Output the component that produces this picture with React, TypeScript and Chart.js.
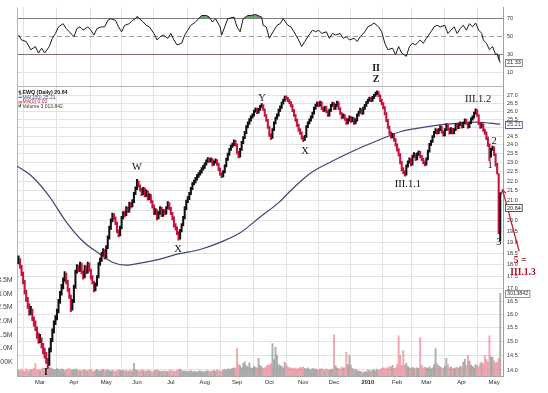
import React, { useEffect, useRef } from "react";
import { Chart, registerables } from "chart.js";

Chart.register(...registerables);

// ---------------- data ----------------
// trading-day index 0 = 9 Feb 2009 ... 313 = 7 May 2010
const closes = [
  18.21, 17.91, 17.62, 17.29, 16.89, 16.58, 16.31, 16.04, 16.16, 15.82,
  15.68, 15.46, 15.20, 15.02, 15.09, 14.85, 14.68, 14.51, 14.34, 14.17,
  14.68, 15.02, 15.38, 15.68, 15.82, 16.12, 16.50, 16.81, 17.09, 17.37,
  17.62, 17.29, 16.97, 16.70, 16.20, 16.50, 17.09, 17.70, 17.91, 17.79,
  18.04, 17.70, 17.49, 17.91, 17.70, 18.04, 17.79, 17.49, 17.29, 16.97,
  17.17, 17.49, 18.04, 18.21, 18.47, 18.64, 18.34, 18.78, 19.21, 19.67,
  20.00, 20.29, 20.15, 19.91, 19.53, 19.35, 19.67, 20.15, 20.38, 20.29,
  20.62, 20.48, 20.86, 20.72, 20.96, 21.36, 21.61, 21.97, 21.76, 21.56,
  21.36, 21.61, 21.26, 21.46, 21.11, 21.26, 20.96, 20.72, 20.38, 20.52,
  20.15, 20.38, 20.62, 20.29, 20.48, 20.38, 20.62, 20.86, 20.62, 20.38,
  20.15, 19.81, 19.67, 19.44, 19.21, 19.53, 19.81, 20.15, 20.62, 20.96,
  21.11, 21.36, 21.61, 21.86, 21.97, 22.12, 22.28, 22.38, 22.49, 22.65,
  22.75, 22.91, 23.08, 23.19, 23.08, 23.19, 22.91, 23.02, 23.13, 22.91,
  22.65, 22.38, 22.28, 22.49, 22.81, 23.19, 23.46, 23.74, 23.90, 24.01,
  24.19, 24.01, 23.57, 23.35, 23.74, 24.13, 24.41, 24.70, 25.05, 25.28,
  25.46, 25.64, 25.76, 26.00, 26.13, 25.94, 26.13, 26.31, 26.37, 26.13,
  25.76, 25.46, 25.05, 24.58, 24.41, 24.87, 25.28, 25.58, 25.76, 26.06,
  26.25, 26.50, 26.69, 26.87, 26.81, 26.69, 26.56, 26.37, 26.06, 25.76,
  25.46, 25.17, 24.87, 24.70, 24.41, 24.30, 24.47, 25.05, 25.28, 25.46,
  25.64, 25.88, 26.19, 26.37, 26.50, 26.37, 26.56, 26.19, 26.06, 26.25,
  26.00, 25.76, 26.06, 26.37, 26.50, 26.19, 26.37, 26.56, 26.19, 25.88,
  25.64, 25.76, 25.52, 25.28, 25.46, 25.64, 25.40, 25.58, 25.28, 25.46,
  25.76, 25.94, 26.13, 25.88, 26.19, 26.37, 26.56, 26.69, 26.81, 26.69,
  26.87, 27.00, 27.13, 27.19, 27.00, 26.69, 26.50, 26.25, 25.88, 25.46,
  25.05, 24.70, 24.47, 24.58, 24.30, 24.01, 23.74, 23.46, 23.02, 22.65,
  22.49, 22.38, 22.81, 23.02, 23.19, 22.91, 23.35, 23.46, 23.19, 23.46,
  23.57, 23.35, 23.19, 23.02, 22.91, 23.19, 23.63, 24.01, 24.19, 24.47,
  24.70, 24.87, 24.70, 24.87, 25.05, 24.76, 24.58, 24.87, 25.17, 24.93,
  24.70, 24.93, 24.70, 24.87, 25.17, 24.99, 25.17, 25.28, 25.05, 25.28,
  25.46, 25.28, 25.05, 25.28, 25.52, 25.64, 25.88, 26.06, 25.76, 25.28,
  25.05, 25.17, 24.87, 24.70, 24.41, 24.01, 23.35, 23.74, 23.85, 23.46,
  22.91, 22.49, 20.50, 20.64,
];

const highs = [
  18.40, 18.28, 17.98, 17.70, 17.35, 16.95, 16.66, 16.40, 16.30, 16.20,
  15.90, 15.75, 15.52, 15.30, 15.25, 15.12, 14.92, 14.75, 14.60, 14.40,
  14.75, 15.10, 15.45, 15.75, 15.95, 16.20, 16.58, 16.90, 17.18, 17.45,
  17.72, 17.65, 17.35, 17.02, 16.75, 16.58, 17.15, 17.78, 18.02, 17.98,
  18.12, 18.08, 17.75, 17.98, 17.95, 18.12, 18.08, 17.82, 17.55, 17.32,
  17.25, 17.55, 18.10, 18.30, 18.55, 18.72, 18.68, 18.85, 19.30, 19.75,
  20.10, 20.38, 20.35, 20.20, 19.95, 19.58, 19.75, 20.22, 20.45, 20.48,
  20.70, 20.68, 20.92, 20.90, 21.05, 21.42, 21.70, 22.10, 22.02, 21.80,
  21.62, 21.68, 21.65, 21.55, 21.50, 21.35, 21.30, 21.00, 20.78, 20.60,
  20.55, 20.45, 20.70, 20.66, 20.55, 20.55, 20.70, 20.95, 20.90, 20.66,
  20.42, 20.20, 19.88, 19.72, 19.50, 19.60, 19.88, 20.22, 20.70, 21.02,
  21.20, 21.42, 21.68, 21.92, 22.05, 22.20, 22.35, 22.45, 22.58, 22.72,
  22.85, 22.98, 23.15, 23.28, 23.25, 23.26, 23.22, 23.10, 23.20, 23.16,
  22.95, 22.70, 22.45, 22.56, 22.88, 23.25, 23.52, 23.80, 23.98, 24.10,
  24.28, 24.25, 24.05, 23.62, 23.80, 24.20, 24.48, 24.78, 25.12, 25.36,
  25.55, 25.72, 25.85, 26.08, 26.22, 26.18, 26.20, 26.38, 26.48, 26.42,
  26.16, 25.80, 25.50, 25.10, 24.65, 24.95, 25.35, 25.65, 25.85, 26.14,
  26.34, 26.58, 26.78, 26.96, 26.98, 26.88, 26.75, 26.62, 26.42, 26.10,
  25.82, 25.52, 25.22, 24.95, 24.75, 24.48, 24.55, 25.12, 25.35, 25.54,
  25.72, 25.95, 26.26, 26.45, 26.60, 26.56, 26.64, 26.60, 26.25, 26.32,
  26.30, 26.05, 26.14, 26.44, 26.58, 26.55, 26.45, 26.64, 26.60, 26.24,
  25.92, 25.84, 25.80, 25.58, 25.54, 25.72, 25.68, 25.65, 25.62, 25.54,
  25.84, 26.02, 26.20, 26.16, 26.26, 26.44, 26.63, 26.78, 26.90, 26.88,
  26.95, 27.08, 27.22, 27.30, 27.25, 27.05, 26.75, 26.55, 26.30, 25.92,
  25.50, 25.10, 24.76, 24.66, 24.62, 24.35, 24.06, 23.78, 23.50, 23.06,
  22.72, 22.55, 22.88, 23.10, 23.26, 23.22, 23.42, 23.55, 23.50, 23.54,
  23.65, 23.62, 23.40, 23.25, 23.08, 23.26, 23.70, 24.08, 24.26, 24.54,
  24.78, 24.95, 24.92, 24.94, 25.12, 25.08, 24.82, 24.94, 25.24, 25.20,
  24.97, 25.00, 24.96, 24.94, 25.24, 25.22, 25.24, 25.36, 25.32, 25.35,
  25.54, 25.50, 25.32, 25.35, 25.60, 25.72, 25.95, 26.15, 26.10, 25.80,
  25.32, 25.25, 25.22, 24.92, 24.75, 24.45, 24.05, 23.80, 23.92, 23.88,
  23.50, 22.95, 22.40, 21.40,
];

const lows = [
  18.05, 17.85, 17.55, 17.20, 16.80, 16.50, 16.22, 15.95, 15.98, 15.75,
  15.55, 15.38, 15.10, 14.92, 14.95, 14.75, 14.55, 14.40, 14.22, 14.05,
  14.15, 14.62, 14.98, 15.30, 15.60, 15.78, 16.05, 16.42, 16.75, 17.00,
  17.30, 17.20, 16.90, 16.62, 16.10, 16.15, 16.45, 17.02, 17.65, 17.70,
  17.72, 17.62, 17.40, 17.45, 17.62, 17.65, 17.72, 17.40, 17.20, 16.88,
  16.92, 17.12, 17.45, 17.98, 18.15, 18.40, 18.25, 18.30, 18.72, 19.15,
  19.60, 19.95, 20.05, 19.82, 19.45, 19.25, 19.30, 19.62, 20.10, 20.20,
  20.25, 20.40, 20.42, 20.62, 20.68, 20.90, 21.30, 21.55, 21.68, 21.48,
  21.25, 21.30, 21.18, 21.20, 21.02, 21.05, 20.88, 20.62, 20.30, 20.32,
  20.05, 20.10, 20.32, 20.20, 20.22, 20.30, 20.33, 20.58, 20.55, 20.30,
  20.05, 19.72, 19.58, 19.35, 19.10, 19.15, 19.48, 19.76, 20.10, 20.55,
  20.90, 21.05, 21.30, 21.55, 21.80, 21.90, 22.05, 22.20, 22.32, 22.42,
  22.58, 22.68, 22.85, 23.00, 23.00, 23.02, 22.82, 22.86, 22.96, 22.84,
  22.56, 22.30, 22.18, 22.22, 22.44, 22.76, 23.12, 23.40, 23.68, 23.85,
  23.95, 23.92, 23.48, 23.25, 23.30, 23.68, 24.06, 24.35, 24.64, 24.98,
  25.20, 25.40, 25.58, 25.70, 25.94, 25.86, 25.88, 26.06, 26.25, 26.05,
  25.68, 25.38, 24.96, 24.48, 24.30, 24.36, 24.82, 25.22, 25.52, 25.70,
  26.00, 26.18, 26.44, 26.62, 26.72, 26.60, 26.48, 26.28, 25.98, 25.68,
  25.38, 25.08, 24.78, 24.60, 24.32, 24.18, 24.25, 24.42, 25.00, 25.22,
  25.40, 25.58, 25.82, 26.12, 26.30, 26.28, 26.32, 26.10, 25.98, 26.00,
  25.92, 25.68, 25.70, 26.00, 26.30, 26.10, 26.12, 26.30, 26.10, 25.80,
  25.55, 25.58, 25.44, 25.20, 25.22, 25.40, 25.32, 25.35, 25.20, 25.22,
  25.40, 25.70, 25.88, 25.80, 25.82, 26.12, 26.30, 26.50, 26.62, 26.60,
  26.62, 26.80, 26.94, 27.05, 26.92, 26.60, 26.40, 26.15, 25.78, 25.36,
  24.95, 24.60, 24.38, 24.40, 24.20, 23.92, 23.64, 23.36, 22.92, 22.55,
  22.40, 22.26, 22.32, 22.75, 22.96, 22.82, 22.86, 23.28, 23.10, 23.14,
  23.40, 23.26, 23.10, 22.94, 22.82, 22.86, 23.14, 23.58, 23.95, 24.14,
  24.42, 24.64, 24.62, 24.64, 24.82, 24.68, 24.50, 24.52, 24.82, 24.85,
  24.62, 24.65, 24.62, 24.64, 24.82, 24.92, 24.94, 25.12, 24.97, 25.00,
  25.22, 25.20, 24.96, 25.00, 25.24, 25.46, 25.58, 25.82, 25.68, 25.18,
  24.96, 24.98, 24.78, 24.60, 24.30, 23.90, 23.10, 23.30, 23.68, 23.38,
  22.80, 22.38, 19.40, 19.05,
];

// volume in thousands of shares
const volumesK = [
  220, 180, 250, 200, 170, 260, 210, 190, 240, 230, 280, 460, 210, 250, 200, 260, 300, 240, 280, 330,
  310, 290, 260, 240, 230, 270, 250, 220, 260, 240, 200, 230, 250, 270, 210, 240, 220, 260, 230, 200, 210,
  190, 210, 230, 180, 200, 220, 250, 190, 170, 210, 230, 200, 180, 220, 240, 210, 190, 230, 200, 180,
  210, 190, 170, 200, 230, 210, 190, 220, 180, 200, 170, 190, 210, 180, 460, 240, 200,
  210, 180, 230, 200, 190, 170, 220, 200, 180, 160, 190, 210, 230, 200, 170, 180, 160, 190, 170, 150,
  200, 220, 180, 190, 170, 210, 230, 250, 200, 180, 190, 170, 160, 180, 200, 150, 170, 160, 140, 180,
  190, 170, 150, 160, 180, 200, 170, 160, 190, 210, 180, 230, 200, 190, 170, 220, 240, 210, 260, 230,
  250, 280, 300, 270,
  1000, 420, 380, 300, 450, 520, 380, 330, 480, 300, 280, 350, 320, 290, 640, 400, 330, 280, 300, 350, 420,
  380, 450, 1180, 600, 1040, 750, 420, 380, 350, 300, 500, 420, 330, 290, 310, 280, 260, 300, 250, 280, 320, 300,
  330, 280, 260, 300, 250, 220, 280, 240, 260, 230, 210, 250, 270, 240, 220, 260, 230, 210, 240, 250,
  1500, 380, 300, 280, 250, 330, 290, 300, 860, 420, 750, 400, 280, 220, 250, 200, 180, 170, 150, 120, 160, 140,
  220, 200, 180, 210, 230, 190, 250, 220, 240, 280, 300, 260, 310, 280, 350, 320, 390, 280, 300,
  420, 1460, 750, 380, 930, 400, 460, 350, 300, 280, 320, 290, 260, 300, 280, 1400, 390, 300, 320,
  300, 280, 330, 260, 300, 420, 1000, 450, 380, 330, 300, 280, 350, 640, 420, 300, 330, 280, 260, 300, 320, 290, 350,
  330, 500, 620, 380, 750, 550, 400, 350, 300, 420, 380, 330, 450, 500, 420, 750, 600, 520, 1460, 700,
  680, 550, 480, 500, 640, 3014,
];

// MA(150) read at sample days
const maDays = [-1, 9, 20, 31, 42, 53, 61, 70, 79, 92, 103, 118, 131, 144, 157, 170, 175, 189, 204, 220, 235, 248, 261, 274, 287, 297, 306, 313];
const maValues = [22.81, 22.23, 21.21, 19.96, 19.04, 18.47, 18.12, 17.99, 18.08, 18.25, 18.47, 18.68, 19.0, 19.44, 20.19, 20.96, 21.36, 22.38, 23.08, 23.74, 24.3, 24.76, 24.99, 25.17, 25.28, 25.34, 25.28, 25.21];

// RSI(14) read at sample days
const rsiDays = [
  0, 2, 5, 8, 11, 13, 15, 17, 20, 22, 24, 26, 29, 31, 33, 36, 38, 40, 42, 45,
  47, 49, 51, 54, 56, 58, 60, 63, 65, 67, 69, 72, 74, 76, 77, 81, 83, 85, 88, 90,
  92, 94, 97, 99, 101, 103, 106, 108, 110, 112, 115, 117, 119, 122, 124, 126, 128, 131, 132, 134,
  136, 140, 142, 144, 146, 149, 151, 154, 158, 159, 161, 163, 166, 168, 170, 172, 175, 177, 179, 182,
  184, 186, 188, 191, 193, 195, 197, 200, 202, 204, 206, 209, 211, 213, 215, 218, 220, 222, 225, 227,
  229, 231, 234, 236, 238, 240, 243, 245, 247, 249, 252, 254, 256, 258, 261, 263, 265, 268, 270, 272,
  274, 277, 279, 281, 283, 285, 287, 289, 291, 293, 295, 297, 299, 301, 302, 304, 306, 307, 308, 310,
  311, 312, 313,
];
const rsiValues = [
  51.4, 46.1, 44.3, 35.4, 38.9, 31.8, 37.1, 31.8, 38.9, 47.9, 53.2, 60.4, 63.9, 58.6, 55.0, 49.6, 58.6, 60.4, 56.8, 60.4,
  56.8, 51.4, 58.6, 60.4, 60.4, 67.5, 69.3, 67.5, 60.4, 55.0, 62.1, 63.9, 67.5, 69.3, 71.8, 65.7, 62.1, 60.4, 53.2, 46.1,
  49.6, 51.4, 47.9, 53.2, 46.1, 40.7, 42.5, 51.4, 56.8, 62.1, 65.7, 69.3, 72.9, 72.9, 71.1, 65.7, 69.3, 60.4, 51.4, 60.4,
  69.3, 71.1, 60.4, 55.0, 69.3, 72.9, 72.9, 73.9, 71.1, 62.1, 60.4, 47.9, 56.8, 62.1, 63.9, 69.3, 62.1, 60.4, 55.0, 46.1,
  38.9, 44.3, 49.6, 56.8, 55.0, 56.8, 53.2, 55.0, 47.9, 53.2, 51.4, 53.2, 47.9, 49.6, 46.1, 47.9, 44.3, 49.6, 55.0, 60.4,
  62.1, 64.6, 60.4, 55.0, 42.5, 35.4, 37.1, 30.0, 38.9, 31.8, 28.2, 38.9, 42.5, 40.7, 46.1, 42.5, 47.9, 55.0, 60.4, 62.1,
  60.4, 62.1, 53.2, 56.8, 60.4, 53.2, 58.5, 62.2, 56.8, 63.9, 60.4, 64.6, 56.8, 53.2, 46.1, 42.5, 35.4, 37.1, 38.9, 30.0,
  31.1, 24.6, 21.33,
];

const monthDays = [14, 36, 57, 77, 99, 121, 142, 163, 185, 205, 227, 246, 265, 288, 309];
const monthLabels = ["Mar", "Apr", "May", "Jun", "Jul", "Aug", "Sep", "Oct", "Nov", "Dec", "2010", "Feb", "Mar", "Apr", "May"];

const priceTicks = [14.0, 14.5, 15.0, 15.5, 16.0, 16.5, 17.0, 17.5, 18.0, 18.5, 19.0, 19.5, 20.0, 20.5, 21.0, 21.5, 22.0, 22.5, 23.0, 23.5, 24.0, 24.5, 25.0, 25.5, 26.0, 26.5, 27.0];
const rsiTicks = [10, 30, 50, 70];
const volTicksK = [500, 1000, 1500, 2000, 2500, 3000, 3500];
const volTickLabels = ["500K", "1.0M", "1.5M", "2.0M", "2.5M", "3.0M", "3.5M"];

// wave annotations on the price panel
const waveLabels = ["W", "X", "Y", "X", "III.1.1", "III.1.2", "1", "2", "3"];
const waveDays = [77, 103.6, 158.2, 186.2, 253, 298.6, 306.4, 309, 312.2];
const wavePrices = [22.75, 18.68, 26.81, 23.63, 21.86, 26.75, 22.86, 24.19, 19.0];
// labels sitting in the RSI panel
const rsiPanelLabels = ["II", "Z"];
const rsiPanelDays = [232.3, 232.3];
const rsiPanelValues = [15.3, 2.4];
// red target note
const noteLabels = ["5 =", "III.1.3"];
const noteDays = [325.9, 327.8];
const notePrices = [18.21, 17.66];
const arrowDays = [314.5, 325.3];
const arrowPrices = [21.55, 18.6];

const lastClose = 20.64;
const lastMA = 25.21;
const lastRSI = 21.33;
const lastVolume = 3013842;

// ---------------- styling ----------------
const SANS = '"Liberation Sans", Arial, Helvetica, sans-serif';
const SERIF = '"Liberation Serif", "Times New Roman", serif';
const UP = "#111111";
const DOWN = "#c4143c";
const VOL_UP = "rgba(150,150,150,0.75)";
const VOL_DOWN = "rgba(232,140,152,0.75)";
const MA_COLOR = "#3d4675";
const GRID = "#e2e2e2";

const isUp = closes.map((c, i) => i === 0 || c >= closes[i - 1]);

const overlayPlugin = {
  id: "overlay",
  beforeDatasetsDraw(chart: any) {
    const { ctx, chartArea } = chart;
    const rsi = chart.scales.yRsi;
    const price = chart.scales.yPrice;
    ctx.save();
    ctx.lineWidth = 1;
    const y50 = Math.round(rsi.getPixelForValue(50)) + 0.5;
    ctx.strokeStyle = "#9c9c9c";
    ctx.setLineDash([5, 3]);
    ctx.beginPath();
    ctx.moveTo(chartArea.left, y50);
    ctx.lineTo(chartArea.right, y50);
    ctx.stroke();
    ctx.setLineDash([]);
    ctx.strokeStyle = "#b8b8b8";
    const yb = Math.round(price.top) + 0.5;
    ctx.beginPath();
    ctx.moveTo(chartArea.left, yb);
    ctx.lineTo(chartArea.right, yb);
    ctx.stroke();
    ctx.beginPath();
    ctx.moveTo(chartArea.left + 0.5, chartArea.top);
    ctx.lineTo(chartArea.left + 0.5, chartArea.bottom);
    ctx.stroke();
    ctx.restore();
  },
  afterDraw(chart: any) {
    const { ctx, chartArea } = chart;
    const { x, yPrice, yRsi, yVol } = chart.scales;
    ctx.save();

    // volume axis labels (cut by the page's left edge)
    ctx.font = `7px ${SANS}`;
    ctx.fillStyle = "#444";
    ctx.textAlign = "right";
    ctx.textBaseline = "middle";
    volTicksK.forEach((v, i) => ctx.fillText(volTickLabels[i], chartArea.left - 4.3, yVol.getPixelForValue(v)));

    // legend
    const lx = chartArea.left + 1;
    const ly = yPrice.top;
    ctx.textAlign = "left";
    ctx.fillStyle = "#111";
    ctx.fillRect(lx + 1.5, ly + 4.5, 1, 4.5);
    ctx.fillRect(lx + 0.5, ly + 5.5, 1, 1);
    ctx.fillRect(lx + 2.5, ly + 7.5, 1, 1);
    ctx.font = `bold 5.3px ${SANS}`;
    ctx.fillText(`EWQ (Daily) ${lastClose.toFixed(2)}`, lx + 4.5, ly + 6.7);
    ctx.font = `5px ${SANS}`;
    ctx.fillStyle = MA_COLOR;
    ctx.fillRect(lx + 0.5, ly + 11, 3.5, 1);
    ctx.fillText(`MA(150) ${lastMA.toFixed(2)}`, lx + 4.5, ly + 11.4);
    ctx.fillStyle = "#c4143c";
    ctx.fillRect(lx + 0.5, ly + 15.8, 3.5, 1);
    ctx.fillText("MA(0) 0.00", lx + 4.5, ly + 16.1);
    ctx.fillStyle = "#555";
    ctx.fillRect(lx + 0.5, ly + 19, 1, 2.5);
    ctx.fillRect(lx + 2, ly + 18, 1, 3.5);
    ctx.fillStyle = "#333";
    ctx.fillText(`Volume ${lastVolume.toLocaleString("en-US")}`, lx + 4.5, ly + 20.6);

    // wave labels
    ctx.textAlign = "center";
    ctx.textBaseline = "middle";
    ctx.fillStyle = "#151515";
    ctx.font = `10.5px ${SERIF}`;
    waveLabels.forEach((t, i) => ctx.fillText(t, x.getPixelForValue(waveDays[i]), yPrice.getPixelForValue(wavePrices[i])));
    ctx.font = `bold 10px ${SERIF}`;
    rsiPanelLabels.forEach((t, i) => ctx.fillText(t, x.getPixelForValue(rsiPanelDays[i]), yRsi.getPixelForValue(rsiPanelValues[i])));
    ctx.fillText("I", x.getPixelForValue(17.9), yPrice.getPixelForValue(13.93));

    // red note + arrow
    const ax1 = x.getPixelForValue(arrowDays[0]);
    const ay1 = yPrice.getPixelForValue(arrowPrices[0]);
    const ax2 = x.getPixelForValue(arrowDays[1]);
    const ay2 = yPrice.getPixelForValue(arrowPrices[1]);
    ctx.strokeStyle = "#c0182a";
    ctx.lineWidth = 1.2;
    ctx.beginPath();
    ctx.moveTo(ax2, ay2);
    ctx.lineTo(ax1, ay1);
    ctx.stroke();
    const ang = Math.atan2(ay1 - ay2, ax1 - ax2);
    ctx.beginPath();
    ctx.moveTo(ax1 - 5 * Math.cos(ang - 0.5), ay1 - 5 * Math.sin(ang - 0.5));
    ctx.lineTo(ax1, ay1);
    ctx.lineTo(ax1 - 5 * Math.cos(ang + 0.5), ay1 - 5 * Math.sin(ang + 0.5));
    ctx.stroke();
    ctx.fillStyle = "#b01020";
    ctx.font = `bold 9.5px ${SERIF}`;
    noteLabels.forEach((t, i) => ctx.fillText(t, x.getPixelForValue(noteDays[i]), yPrice.getPixelForValue(notePrices[i])));

    // value boxes on the right axis
    const box = (text: string, cy: number, stroke: string, color: string) => {
      ctx.font = `5.5px ${SANS}`;
      ctx.textAlign = "left";
      ctx.textBaseline = "middle";
      const w = ctx.measureText(text).width + 3;
      const h = 7;
      const bx = Math.round(chartArea.right + 2) + 0.5;
      const by = Math.round(cy - h / 2) + 0.5;
      ctx.fillStyle = "#fff";
      ctx.fillRect(bx, by, w, h);
      ctx.strokeStyle = stroke;
      ctx.lineWidth = 0.8;
      ctx.strokeRect(bx, by, w, h);
      ctx.fillStyle = color;
      ctx.fillText(text, bx + 1.5, cy + 0.3);
    };
    box(lastRSI.toFixed(2), yRsi.getPixelForValue(lastRSI), "#666", "#222");
    box(lastMA.toFixed(2), yPrice.getPixelForValue(lastMA), MA_COLOR, MA_COLOR);
    box(lastClose.toFixed(2), yPrice.getPixelForValue(lastClose), "#333", "#111");
    box(String(lastVolume), yVol.getPixelForValue(lastVolume / 1000), "#777", "#333");

    ctx.restore();
  },
};

export default function App() {
  const ref = useRef<HTMLCanvasElement>(null);

  useEffect(() => {
    if (!ref.current) return;
    const chart = new Chart(ref.current, {
      type: "line",
      data: {
        datasets: [
          {
            type: "bar",
            label: "EWQ",
            yAxisID: "yPrice",
            data: closes.map((c, i) => ({ x: i, y: [lows[i], highs[i]] })) as any,
            backgroundColor: isUp.map((u) => (u ? UP : DOWN)),
            barThickness: 1.4,
            grouped: false,
            order: 0,
          } as any,
          {
            type: "line",
            label: "RSI",
            yAxisID: "yRsi",
            data: rsiDays.map((d, i) => ({ x: d, y: rsiValues[i] })),
            borderColor: "#1a1a1a",
            borderWidth: 1,
            pointRadius: 0,
            tension: 0,
            fill: { target: { value: 70 }, above: "rgba(70,140,70,0.8)", below: "rgba(0,0,0,0)" },
            order: 1,
          } as any,
          {
            type: "line",
            label: "RSI low",
            yAxisID: "yRsi",
            data: rsiDays.map((d, i) => ({ x: d, y: rsiValues[i] })),
            borderColor: "rgba(0,0,0,0)",
            borderWidth: 0,
            pointRadius: 0,
            tension: 0,
            fill: { target: { value: 30 }, above: "rgba(0,0,0,0)", below: "rgba(160,40,55,0.85)" },
            order: 2,
          } as any,
          {
            type: "line",
            label: "MA(150)",
            yAxisID: "yPrice",
            data: maDays.map((d, i) => ({ x: d, y: maValues[i] })),
            borderColor: MA_COLOR,
            borderWidth: 1.2,
            pointRadius: 0,
            cubicInterpolationMode: "monotone",
            fill: false,
            order: 3,
          } as any,
          {
            type: "bar",
            label: "Volume",
            yAxisID: "yVol",
            data: volumesK.map((v, i) => ({ x: i, y: v })),
            backgroundColor: isUp.map((u) => (u ? VOL_UP : VOL_DOWN)),
            barThickness: 1.3,
            grouped: false,
            order: 5,
          } as any,
        ],
      },
      options: {
        animation: false,
        responsive: false,
        devicePixelRatio: 1,
        events: [],
        layout: { padding: { left: 17, right: 0, top: 0, bottom: 0 } },
        plugins: { legend: { display: false }, tooltip: { enabled: false } },
        scales: {
          x: {
            type: "linear",
            min: -0.97,
            max: 314.8,
            offset: false,
            grid: { color: GRID, lineWidth: 1, drawTicks: false },
            border: { display: true, color: "#a8a8a8" },
            afterBuildTicks: (s: any) => {
              s.ticks = monthDays.map((v) => ({ value: v }));
            },
            afterFit: (s: any) => {
              s.height = 17;
            },
            ticks: {
              autoSkip: false,
              maxRotation: 0,
              padding: 3,
              color: "#2a2a2a",
              font: (c: any) => ({ family: SANS, size: 5.8, weight: c.index === 10 ? "bold" : "normal" }),
              callback: (v: any) => monthLabels[monthDays.indexOf(Number(v))] ?? "",
            },
          },
          yRsi: {
            type: "linear",
            position: "right",
            stack: "panes",
            stackWeight: 80,
            min: -3.99,
            max: 81.8,
            bounds: "data",
            afterBuildTicks: (s: any) => {
              s.ticks = rsiTicks.map((v) => ({ value: v }));
            },
            afterFit: (s: any) => {
              s.width = 45;
            },
            grid: {
              drawTicks: false,
              color: (c: any) => {
                const v = c.tick?.value;
                if (v === 70 || v === 30) return "#7c7c7c";
                if (v === 50) return "rgba(0,0,0,0)";
                return GRID;
              },
            },
            border: { display: true, color: "#a0a0a0" },
            ticks: {
              autoSkip: false,
              padding: 4,
              color: "#333",
              font: { family: SANS, size: 5.5 },
              callback: (v: any) => String(v),
            },
          },
          yPrice: {
            type: "logarithmic",
            position: "right",
            stack: "panes",
            stackWeight: 296,
            min: 13.8,
            max: 27.64,
            bounds: "data",
            afterBuildTicks: (s: any) => {
              s.ticks = priceTicks.map((v) => ({ value: v }));
            },
            afterFit: (s: any) => {
              s.width = 45;
            },
            grid: { drawTicks: false, color: GRID },
            border: { display: true, color: "#a0a0a0" },
            ticks: {
              autoSkip: false,
              padding: 4,
              color: "#333",
              font: { family: SANS, size: 5.5 },
              callback: (v: any) => Number(v).toFixed(1),
            },
          },
          yVol: {
            type: "linear",
            display: false,
            position: "left",
            min: 0,
            max: 13429,
          },
        },
      } as any,
      plugins: [overlayPlugin],
    });
    return () => chart.destroy();
  }, []);

  return (
    <div style={{ position: "fixed", left: 0, top: 0, width: 548, height: 393, background: "#fff", overflow: "hidden" }}>
      <canvas ref={ref} width={548} height={393} style={{ width: 548, height: 393, display: "block" }} />
    </div>
  );
}
